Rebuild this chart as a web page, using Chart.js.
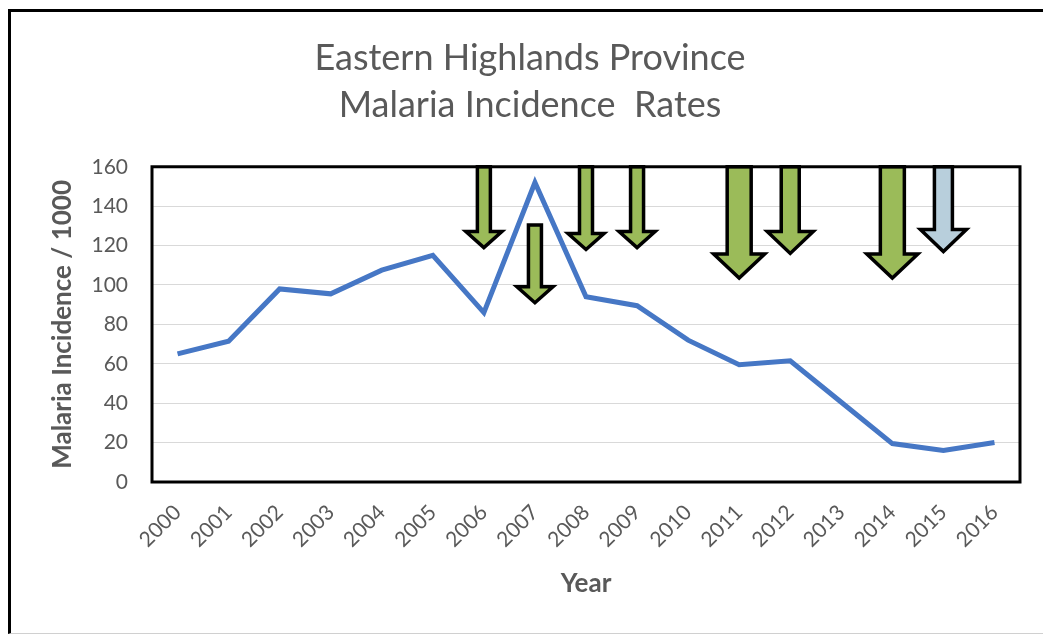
<!DOCTYPE html>
<html>
<head>
<meta charset="utf-8">
<script src="https://cdn.jsdelivr.net/npm/chart.js@4"></script>
<style>
  html, body { margin: 0; padding: 0; background: #fff; }
  #wrap { position: relative; width: 1043px; height: 635px; overflow: hidden; }
  #frame {
    position: absolute; left: 8px; top: 9px; width: 1100px; height: 621px;
    border-left: 3px solid #000; border-top: 3px solid #000; border-bottom: 1px solid #d0d0d0;
    pointer-events: none;
  }
  canvas { position: absolute; left: 0; top: 0; }
</style>
</head>
<body>
<div id="wrap">
  <canvas id="chart" width="1043" height="635"></canvas>
  <div id="frame"></div>
</div>
<script>
// ===== data =====
const years = ["2000", "2001", "2002", "2003", "2004", "2005", "2006", "2007", "2008",
  "2009", "2010", "2011", "2012", "2013", "2014", "2015", "2016"];
const incidence = [65, 71.5, 98, 95.5, 107.5, 115, 86, 152, 94, 89.5, 72, 59.5, 61.5, 40.5, 19.5, 16, 20];
const yTicks = [0, 20, 40, 60, 80, 100, 120, 140, 160];

// intervention arrows (value at top and tip of each arrow)
const arrowYears = ["2006", "2007", "2008", "2009", "2011", "2012", "2014", "2015"];
const arrowFrom = [160, 130.5, 160, 160, 160, 160, 160, 160];
const arrowTo = [119, 91, 118, 119, 103.5, 116, 103.5, 117];

// ===== arrow styles =====
const GREEN = "#9bbb59";
const BLUE = "#b8cfdc";
const small = { shaft: 13, head: 36, headH: 16, fill: GREEN };
const large = { shaft: 24, head: 51, headH: 24, fill: GREEN };
const medium = { shaft: 18, head: 46, headH: 22, fill: GREEN };
const arrowStyle = [small, small, small, small, large, medium, large, { ...medium, fill: BLUE }];

const GREY = "#595959";
const FONT = "Lato, 'Open Sans', sans-serif";

// ===== arrows + plot frame =====
const arrowPlugin = {
  id: "arrows",
  afterDatasetsDraw(chart) {
    const { ctx, scales: { x, y }, chartArea } = chart;
    ctx.save();
    arrowYears.forEach((yr, i) => {
      const st = arrowStyle[i];
      const cx = x.getPixelForValue(years.indexOf(yr));
      const top = y.getPixelForValue(arrowFrom[i]);
      const tip = y.getPixelForValue(arrowTo[i]);
      const s = st.shaft / 2, h = st.head / 2, neck = tip - st.headH;
      ctx.beginPath();
      ctx.moveTo(cx - s, top);
      ctx.lineTo(cx - s, neck);
      ctx.lineTo(cx - h, neck);
      ctx.lineTo(cx, tip);
      ctx.lineTo(cx + h, neck);
      ctx.lineTo(cx + s, neck);
      ctx.lineTo(cx + s, top);
      ctx.closePath();
      ctx.fillStyle = st.fill;
      ctx.fill();
      ctx.lineWidth = 3.5;
      ctx.lineJoin = "miter";
      ctx.strokeStyle = "#000";
      ctx.stroke();
    });
    // black box round the plot
    ctx.lineWidth = 3;
    ctx.strokeStyle = "#000";
    ctx.strokeRect(chartArea.left, chartArea.top, chartArea.width, chartArea.height);
    ctx.restore();
  }
};

new Chart(document.getElementById("chart"), {
  type: "line",
  data: {
    labels: years,
    datasets: [{
      data: incidence,
      borderColor: "#4677c5",
      borderWidth: 5,
      pointRadius: 0,
      tension: 0
    }]
  },
  options: {
    responsive: false,
    animation: false,
    devicePixelRatio: 1,
    layout: { padding: { left: 40, right: 23, top: 0, bottom: 0 } },
    plugins: {
      legend: { display: false },
      tooltip: { enabled: false },
      title: {
        display: true,
        text: ["Eastern Highlands Province", "Malaria Incidence  Rates"],
        color: GREY,
        font: { family: FONT, size: 36, weight: "normal", lineHeight: 1.33 },
        padding: { top: 34, bottom: 37 }
      }
    },
    scales: {
      x: {
        offset: true,
        grid: { display: false, drawTicks: false },
        border: { display: false },
        ticks: {
          color: GREY,
          font: { family: FONT, size: 21 },
          minRotation: 45,
          maxRotation: 45,
          padding: 18,
          autoSkip: false
        },
        title: {
          display: true,
          text: "Year",
          color: GREY,
          font: { family: FONT, size: 26, weight: "bold" },
          padding: { top: 0, bottom: 36 }
        },
        afterFit(scale) { scale.height = 153; }
      },
      y: {
        min: 0,
        max: 160,
        afterBuildTicks(scale) { scale.ticks = yTicks.map(v => ({ value: v })); },
        grid: { color: "#d9d9d9", lineWidth: 1, drawTicks: false },
        border: { display: false },
        ticks: {
          color: GREY,
          font: { family: FONT, size: 21 },
          padding: 24
        },
        title: {
          display: true,
          text: "Malaria Incidence / 1000",
          color: GREY,
          font: { family: FONT, size: 26, weight: "bold" },
          padding: { top: 7, bottom: 0 }
        },
        afterFit(scale) { scale.width = 112; }
      }
    }
  },
  plugins: [arrowPlugin]
});
</script>
</body>
</html>
